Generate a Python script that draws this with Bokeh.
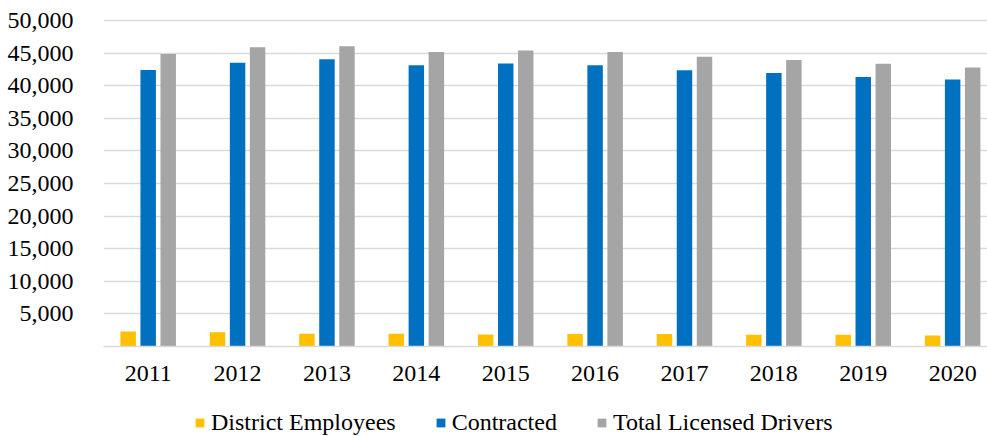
from bokeh.plotting import figure
from bokeh.layouts import column
from bokeh.models import (ColumnDataSource, Legend, LegendItem,
                          FixedTicker, NumeralTickFormatter, Range1d)
from bokeh.transform import dodge
from bokeh.embed import file_html
from bokeh.resources import INLINE

years = ["2011", "2012", "2013", "2014", "2015", "2016", "2017", "2018", "2019", "2020"]
district = [2300, 2200, 1950, 1950, 1850, 1900, 1900, 1800, 1800, 1700]
contracted = [42400, 43500, 44050, 43150, 43400, 43150, 42350, 41950, 41350, 40950]
total = [44850, 45900, 46050, 45150, 45400, 45150, 44450, 43950, 43350, 42800]
series_names = ["District Employees", "Contracted", "Total Licensed Drivers"]
y_ticks = [5000, 10000, 15000, 20000, 25000, 30000, 35000, 40000, 45000, 50000]

colors = ["#FFC000", "#0070C0", "#A5A5A5"]
FONT = "Liberation Serif"

year_num = [int(y) for y in years]
src = ColumnDataSource(dict(year=year_num, district=district, contracted=contracted, total=total))

p = figure(x_range=Range1d(2010.5, 2020.39), y_range=Range1d(0, 50610),
           width=987, height=398, output_backend="svg", toolbar_location=None,
           min_border_left=103, min_border_right=0, min_border_top=16, min_border_bottom=52)

offsets = [-0.224, 0.0, 0.224]
fields = ["district", "contracted", "total"]
for f, off, c in zip(fields, offsets, colors):
    p.vbar(x=dodge("year", off), top=f, width=0.173, source=src,
           fill_color=c, line_color=None)

p.outline_line_color = None
p.xgrid.grid_line_color = None
p.ygrid.grid_line_color = "#D9D9D9"
p.ygrid.grid_line_width = 1.5

p.xaxis.ticker = FixedTicker(ticks=year_num)
p.xaxis.major_label_overrides = {yn: y for yn, y in zip(year_num, years)}
p.xaxis.axis_line_color = "#D9D9D9"
p.xaxis.axis_line_width = 1.5
p.xaxis.major_tick_line_color = None
p.xaxis.minor_tick_line_color = None
p.xaxis.major_label_text_font = FONT
p.xaxis.major_label_text_font_size = "24px"
p.xaxis.major_label_text_color = "#000000"
p.xaxis.major_label_standoff = 13

p.yaxis.ticker = FixedTicker(ticks=y_ticks)
p.yaxis.formatter = NumeralTickFormatter(format="0,0")
p.yaxis.axis_line_color = None
p.yaxis.major_tick_line_color = None
p.yaxis.minor_tick_line_color = None
p.yaxis.major_tick_out = 0
p.yaxis.major_tick_in = 0
p.yaxis.major_label_text_font = FONT
p.yaxis.major_label_text_font_size = "24px"
p.yaxis.major_label_text_color = "#000000"
p.yaxis.major_label_standoff = 30

# legend strip
p2 = figure(width=987, height=38, output_backend="svg", toolbar_location=None,
            x_range=Range1d(0, 1), y_range=Range1d(0, 1),
            x_axis_location=None, y_axis_location=None,
            min_border_left=0, min_border_right=0, min_border_top=0, min_border_bottom=0)
p2.outline_line_color = None
p2.grid.grid_line_color = None
leg_renderers = []
for f, c in zip(fields, colors):
    r = p2.vbar(x="year", top=f, width=0.5, source=src, fill_color=c, line_color=None)
    r.visible = False
    leg_renderers.append(r)

legend = Legend(items=[LegendItem(label=n, renderers=[r]) for n, r in zip(series_names, leg_renderers)],
                orientation="horizontal", location=(91, 0),
                label_text_font=FONT, label_text_font_size="24px", label_text_color="#000000",
                glyph_width=11, glyph_height=11, label_standoff=6, spacing=39,
                padding=0, margin=0, border_line_color=None, background_fill_alpha=0)
p2.add_layout(legend, "center")

layout = column(p, p2, spacing=0)
open("out.html", "w").write(file_html(layout, INLINE))
